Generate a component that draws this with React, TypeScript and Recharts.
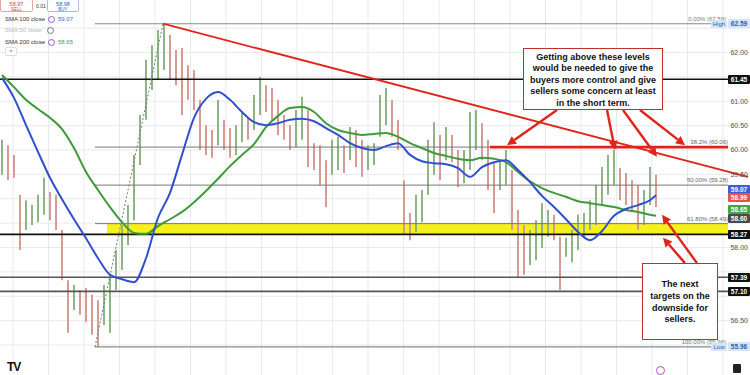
import React from "react";
import {
  ComposedChart,
  Bar,
  Line,
  Cell,
  XAxis,
  YAxis,
  CartesianGrid,
  ReferenceLine,
  ReferenceArea,
} from "recharts";

// candle time index (one candle every 6 units)
const candleTimes = [
  2, 8, 14, 20, 26, 32, 38, 44, 50, 56, 62, 68, 74, 80, 86, 92, 98, 104, 110, 116,
  122, 128, 134, 140, 146, 152, 158, 164, 170, 176, 182, 188, 194, 200, 206, 212, 218, 224, 230, 236,
  242, 248, 254, 260, 266, 272, 278, 284, 290, 296, 302, 308, 314, 320, 326, 332, 338, 344, 350, 356,
  362, 368, 374, 380, 386, 392, 398, 404, 410, 416, 422, 428, 434, 440, 446, 452, 458, 464, 470, 476,
  482, 488, 494, 500, 506, 512, 518, 524, 530, 536, 542, 548, 554, 560, 566, 572, 578, 584, 590, 596,
  602, 608, 614, 620, 626, 632, 638, 644, 650, 656,
];

const candleHigh = [
  60.21, 60.1, 59.9, 59.08, 58.97, 58.87, 59.08, 59.43, 59.14, 59.08,
  58.36, 57.33, 57.23, 57.13, 57.17, 57.03, 56.92, 57.23, 57.44, 57.95,
  58.46, 58.87, 59.9, 60.72, 61.85, 62.15, 62.46, 62.59, 62.36, 62.05,
  62.09, 61.74, 61.64, 61.03, 60.51, 60.41, 61.03, 60.62, 60.45, 60.51,
  60.76, 60.66, 61.13, 61.5, 61.33, 61.27, 61.03, 60.72, 60.51, 60.82,
  61.09, 60.82, 60.14, 60.1, 59.79, 60.21, 60.27, 60.1, 60.47, 60.41,
  60.21, 60.1, 60.14, 61.13, 61.27, 61.03, 60.62, 59.38, 58.71, 59.08,
  59.18, 60.21, 60.57, 60.31, 60.47, 60.31, 60.0, 60.0, 60.78, 60.82,
  60.55, 60.21, 59.73, 59.79, 60.0, 59.59, 58.77, 58.46, 58.36, 58.56,
  58.91, 58.77, 58.67, 58.22, 58.2, 58.36, 58.67, 58.71, 58.97, 59.28,
  59.65, 59.9, 60.0, 59.63, 59.53, 59.38, 59.28, 59.18, 59.65, 59.49,
];

const candleLow = [
  59.49, 59.38, 59.43, 57.95, 58.36, 58.46, 58.52, 58.67, 58.56, 58.36,
  57.33, 56.25, 56.72, 56.62, 56.47, 56.21, 55.96, 56.41, 56.25, 57.13,
  57.54, 58.05, 58.56, 59.69, 60.62, 61.23, 61.44, 61.64, 61.44, 61.33,
  60.72, 61.03, 60.82, 60.0, 59.9, 59.84, 60.1, 60.0, 59.84, 59.9,
  60.16, 60.21, 60.41, 60.72, 60.78, 60.62, 60.31, 60.21, 60.0, 60.06,
  60.21, 59.65, 59.59, 59.28, 58.83, 59.49, 59.59, 59.53, 59.79, 59.65,
  59.45, 59.59, 59.69, 60.27, 60.51, 60.27, 60.0, 58.26, 58.15, 58.32,
  58.52, 59.08, 59.49, 59.38, 59.79, 59.75, 59.24, 59.32, 59.59, 60.0,
  59.79, 59.18, 58.71, 59.18, 59.28, 58.36, 57.39, 57.44, 57.64, 57.74,
  57.99, 58.22, 58.15, 57.13, 57.81, 57.7, 57.95, 58.22, 58.36, 58.46,
  58.87, 59.08, 59.28, 58.97, 58.87, 58.77, 58.36, 58.46, 58.87, 58.83,
];

// moving averages, sampled every second candle
const smaTimes = [
  2, 14, 26, 38, 50, 62, 74, 86, 98, 110, 122, 134, 146, 158, 170, 182, 194, 206, 218, 230,
  242, 254, 266, 278, 290, 302, 314, 326, 338, 350, 362, 374, 386, 398, 410, 422, 434, 446, 458, 470,
  482, 494, 506, 518, 530, 542, 554, 566, 578, 590, 602, 614, 626, 638, 650, 656,
];

const sma100 = [
  61.48, 61.07, 60.51, 59.96, 59.43, 58.99, 58.58, 58.19, 57.78, 57.44,
  57.35, 57.29, 57.78, 58.61, 59.12, 59.9, 60.66, 61.05, 61.19, 61.03,
  60.78, 60.57, 60.51, 60.55, 60.62, 60.64, 60.59, 60.45, 60.31, 60.14,
  60.04, 60.0, 60.08, 60.14, 59.9, 59.77, 59.73, 59.71, 59.63, 59.45,
  59.65, 59.75, 59.79, 59.59, 59.34, 59.06, 58.83, 58.58, 58.32, 58.15,
  58.34, 58.65, 58.79, 58.87, 58.97, 59.07,
];

const sma200 = [
  61.54, 61.29, 61.03, 60.84, 60.66, 60.43, 60.04, 59.55, 59.18, 58.83,
  58.52, 58.3, 58.28, 58.44, 58.58, 58.73, 58.93, 59.16, 59.41, 59.67,
  59.9, 60.12, 60.47, 60.7, 60.86, 60.88, 60.78, 60.55, 60.41, 60.35,
  60.31, 60.33, 60.35, 60.27, 60.14, 60.04, 59.94, 59.88, 59.82, 59.79,
  59.84, 59.82, 59.75, 59.55, 59.36, 59.22, 59.12, 59.04, 58.95, 58.91,
  58.87, 58.83, 58.77, 58.73, 58.67, 58.65,
];

// axis labels that are not hidden behind the price badges
const priceTicks = [56.5, 58, 59.5, 60, 60.5, 61, 62];
const gridPrices = [56, 56.5, 57, 57.5, 58, 58.5, 59, 59.5, 60, 60.5, 61, 61.5, 62, 62.5];
const gridTimes = [13, 48.5, 84, 119.5, 155, 190.5, 226, 261.5, 297, 332.5, 368, 403.5, 439, 474.5, 510, 545.5, 581, 616.5, 652, 687.5, 723];

// key levels
const HIGH = 62.59;
const LOW = 55.96;
const fibLevels = [
  { v: 60.06, text: "38.2% (60.06)" },
  { v: 59.28, text: "50.00% (59.28)" },
  { v: 58.49, text: "61.80% (58.49)" },
];
const blackLevels = [61.45, 58.27];
const targetLevels = [57.39, 57.1];
const trendEnd = 59.45;

const Y_MIN = 55.385;
const Y_MAX = 63.077;
const W = 750;
const H = 375;

const rows = new Map<number, any>();
candleTimes.forEach((t, i) => {
  const mid = (candleHigh[i] + candleLow[i]) / 2;
  const prev = i > 0 ? (candleHigh[i - 1] + candleLow[i - 1]) / 2 : mid;
  rows.set(t, { t, range: [candleLow[i], candleHigh[i]], up: mid >= prev });
});
smaTimes.forEach((t, i) => {
  const r = rows.get(t) ?? { t };
  r.sma100 = sma100[i];
  r.sma200 = sma200[i];
  rows.set(t, r);
});
const data = [...rows.values()].sort((a, b) => a.t - b.t);

const yPx = (v: number) => ((Y_MAX - v) / (Y_MAX - Y_MIN)) * H;

const RED = "#e2231a";

const Arrow = (props: any) => {
  const { x1, y1, x2, y2 } = props;
  const a = Math.atan2(y2 - y1, x2 - x1);
  const L = 9;
  const hw = 4.5;
  const bx = x2 - L * Math.cos(a);
  const by = y2 - L * Math.sin(a);
  const px = -Math.sin(a) * hw;
  const py = Math.cos(a) * hw;
  return (
    <g>
      <line x1={x1} y1={y1} x2={bx} y2={by} stroke={RED} strokeWidth={2.4} />
      <polygon points={`${x2},${y2} ${bx + px},${by + py} ${bx - px},${by - py}`} fill={RED} />
    </g>
  );
};

const arrows = [
  { from: [557, 60.82], to: [507, 60.1] },
  { from: [607, 60.82], to: [615, 60.0] },
  { from: [623, 60.82], to: [657, 59.86] },
  { from: [640, 60.82], to: [685, 60.1] },
  { from: [697, 57.68], to: [662, 58.67] },
  { from: [685, 57.68], to: [663, 58.2] },
];

const badges = [
  { v: 62.59, bg: "#d6e4f7", fg: "#2b5fb4", nudge: 0 },
  { v: 61.45, bg: "#111", fg: "#fff", nudge: 0 },
  { v: 59.07, bg: "#3d5fd6", fg: "#fff", nudge: -6 },
  { v: 58.99, bg: "#e4524c", fg: "#fff", nudge: -2 },
  { v: 58.65, bg: "#45a348", fg: "#fff", nudge: -6 },
  { v: 58.6, bg: "#4a4a4a", fg: "#fff", nudge: 0 },
  { v: 58.27, bg: "#111", fg: "#fff", nudge: 0 },
  { v: 57.39, bg: "#111", fg: "#fff", nudge: 0 },
  { v: 57.1, bg: "#111", fg: "#fff", nudge: 0 },
  { v: 55.96, bg: "#d6e4f7", fg: "#2b5fb4", nudge: 0 },
];

const small: React.CSSProperties = { position: "absolute", fontSize: 6, whiteSpace: "nowrap", lineHeight: "8px" };

export default function App() {
  return (
    <div style={{ position: "relative", width: W, height: H, overflow: "hidden", background: "#fff", fontFamily: "'Liberation Sans', Arial, sans-serif" }}>
      <style>{"body{margin:0}"}</style>
      <ComposedChart width={W} height={H} data={data} margin={{ top: 0, right: 0, bottom: 0, left: 0 }}>
        <CartesianGrid stroke="#e6e9ee" strokeWidth={1} verticalValues={gridTimes} horizontalValues={gridPrices} />
        <XAxis dataKey="t" type="number" domain={[0, W]} hide allowDataOverflow />
        <YAxis
          orientation="right"
          mirror
          domain={[Y_MIN, Y_MAX]}
          ticks={priceTicks}
          allowDataOverflow
          tickLine={false}
          axisLine={false}
          tickMargin={2}
          tickSize={0}
          tick={{ fontSize: 7, fill: "#555" }}
          tickFormatter={(v) => Number(v).toFixed(2)}
        />
        <ReferenceArea x1={107} x2={728} y1={58.27} y2={58.49} fill="#f6f01c" fillOpacity={1} stroke="none" />
        <ReferenceLine segment={[{ x: 95, y: HIGH }, { x: 711, y: HIGH }]} stroke="#8a8a8a" strokeWidth={1.2} />
        <ReferenceLine segment={[{ x: 95, y: LOW }, { x: 711, y: LOW }]} stroke="#8a8a8a" strokeWidth={1.2} />
        {fibLevels.map((f) => (
          <ReferenceLine key={f.v} segment={[{ x: 95, y: f.v }, { x: 728, y: f.v }]} stroke="#777" strokeWidth={1} />
        ))}
        {blackLevels.map((v) => (
          <ReferenceLine key={v} y={v} stroke="#111" strokeWidth={1.6} />
        ))}
        {targetLevels.map((v) => (
          <ReferenceLine key={v} y={v} stroke="#555" strokeWidth={1.6} />
        ))}
        <ReferenceLine segment={[{ x: 95, y: LOW }, { x: 163, y: HIGH }]} stroke="#777" strokeDasharray="2 2" strokeWidth={1} />
        <Bar dataKey="range" barSize={2} isAnimationActive={false}>
          {data.map((d, i) => (
            <Cell key={i} fill={d.up ? "#8fb585" : "#d69b92"} />
          ))}
        </Bar>
        <Line dataKey="sma200" type="monotone" stroke="#3e9a3a" strokeWidth={2} dot={false} connectNulls isAnimationActive={false} />
        <Line dataKey="sma100" type="monotone" stroke="#2f4fd0" strokeWidth={2} dot={false} connectNulls isAnimationActive={false} />
        <ReferenceLine segment={[{ x: 163, y: HIGH }, { x: 748, y: trendEnd }]} stroke={RED} strokeWidth={1.8} ifOverflow="visible" />
        <ReferenceLine segment={[{ x: 490, y: 60.06 }, { x: 728, y: 60.06 }]} stroke={RED} strokeWidth={2.6} />
        {arrows.map((a, i) => (
          <ReferenceLine
            key={i}
            segment={[{ x: a.from[0], y: a.from[1] }, { x: a.to[0], y: a.to[1] }]}
            shape={Arrow}
            ifOverflow="visible"
          />
        ))}
      </ComposedChart>

      {/* fib labels */}
      <div style={{ ...small, right: 24, top: yPx(HIGH) - 9, color: "#777" }}>0.00% (62.59)</div>
      {fibLevels.map((f) => (
        <div key={f.v} style={{ ...small, right: 22, top: yPx(f.v) - 9, color: "#666" }}>{f.text}</div>
      ))}
      <div style={{ ...small, right: 24, top: yPx(LOW) - 9, color: "#777" }}>100.00% (55.96)</div>
      <div style={{ ...small, left: 711, top: yPx(HIGH) - 4, width: 16, height: 8, background: "#d6e4f7", color: "#2b5fb4", textAlign: "center" }}>High</div>
      <div style={{ ...small, left: 711, top: yPx(LOW) - 4, width: 16, height: 8, background: "#d6e4f7", color: "#2b5fb4", textAlign: "center" }}>Low</div>

      {/* price badges */}
      {badges.map((b) => (
        <div
          key={b.v}
          style={{
            ...small,
            left: 728,
            top: yPx(b.v) + b.nudge - 4.5,
            width: 22,
            height: 9,
            lineHeight: "9px",
            background: b.bg,
            color: b.fg,
            fontSize: 6.5,
            fontWeight: 700,
            textAlign: "center",
            borderRadius: 1,
          }}
        >
          {b.v.toFixed(2)}
        </div>
      ))}

      {/* annotation boxes */}
      <div
        style={{
          position: "absolute",
          left: 523,
          top: 48,
          width: 140,
          height: 62,
          boxSizing: "border-box",
          border: "1.5px solid #c0302a",
          background: "#fff",
          fontSize: 9,
          fontWeight: 700,
          lineHeight: "11.4px",
          textAlign: "center",
          color: "#111",
          paddingTop: 3,
        }}
      >
        Getting above these levels
        <br />
        would be needed to give the
        <br />
        buyers more control and give
        <br />
        sellers some concern at least
        <br />
        in the short term.
      </div>
      <div
        style={{
          position: "absolute",
          left: 642,
          top: 263,
          width: 76,
          height: 77,
          boxSizing: "border-box",
          border: "1.5px solid #c0302a",
          background: "#fff",
          fontSize: 9,
          fontWeight: 700,
          lineHeight: "11.8px",
          textAlign: "center",
          color: "#111",
          paddingTop: 15,
        }}
      >
        The next
        <br />
        targets on the
        <br />
        downside for
        <br />
        sellers.
      </div>

      {/* legend */}
      <div style={{ position: "absolute", left: 0, top: -1, width: 33, height: 13, boxSizing: "border-box", border: "1px solid #eaa4a4", borderRadius: 2, background: "#fff", color: "#d23c3c", textAlign: "center", fontSize: 5.5, lineHeight: "6px", paddingTop: 0.5 }}>
        58.97
        <div style={{ fontSize: 4.5, lineHeight: "5px" }}>SELL</div>
      </div>
      <div style={{ ...small, left: 36, top: 2, fontSize: 5, color: "#333" }}>0.01</div>
      <div style={{ position: "absolute", left: 47, top: -1, width: 32, height: 13, boxSizing: "border-box", border: "1px solid #a9bde8", borderRadius: 2, background: "#fff", color: "#3557c8", textAlign: "center", fontSize: 5.5, lineHeight: "6px", paddingTop: 0.5 }}>
        58.98
        <div style={{ fontSize: 4.5, lineHeight: "5px" }}>BUY</div>
      </div>
      <div style={{ ...small, left: 5, top: 15, color: "#333" }}>SMA 100 close</div>
      <div style={{ position: "absolute", left: 48, top: 16, width: 5, height: 5, border: "1px solid #8e5fc7", borderRadius: "50%" }} />
      <div style={{ ...small, left: 58, top: 15, color: "#3d5fd6" }}>59.07</div>
      <div style={{ ...small, left: 5, top: 26, color: "#b8b8b8" }}>SMA 50 close</div>
      <div style={{ position: "absolute", left: 47, top: 27, width: 5, height: 5, border: "1px solid #777", borderRadius: "50%" }} />
      <div style={{ ...small, left: 5, top: 38, color: "#333" }}>SMA 200 close</div>
      <div style={{ position: "absolute", left: 48, top: 39, width: 5, height: 5, border: "1px solid #8e5fc7", borderRadius: "50%" }} />
      <div style={{ ...small, left: 58, top: 38, color: "#45a348" }}>58.65</div>
      <div style={{ position: "absolute", left: 5, top: 47, width: 12, height: 9, boxSizing: "border-box", border: "1px solid #ddd", borderRadius: 2, background: "#fff", fontSize: 6, textAlign: "center", lineHeight: "9px", color: "#333" }}>^</div>

      {/* footer marks */}
      <div style={{ position: "absolute", left: 7, top: 360, fontSize: 12, lineHeight: "14px", fontWeight: 900, color: "#111", letterSpacing: -1 }}>TV</div>
      <div style={{ position: "absolute", left: 656, top: 366, width: 7, height: 7, border: "1px solid #b04fc2", borderRadius: "50%" }} />
      <div style={{ position: "absolute", left: 733, top: 364, width: 8, height: 9, background: "#222", borderRadius: 1 }} />
    </div>
  );
}
